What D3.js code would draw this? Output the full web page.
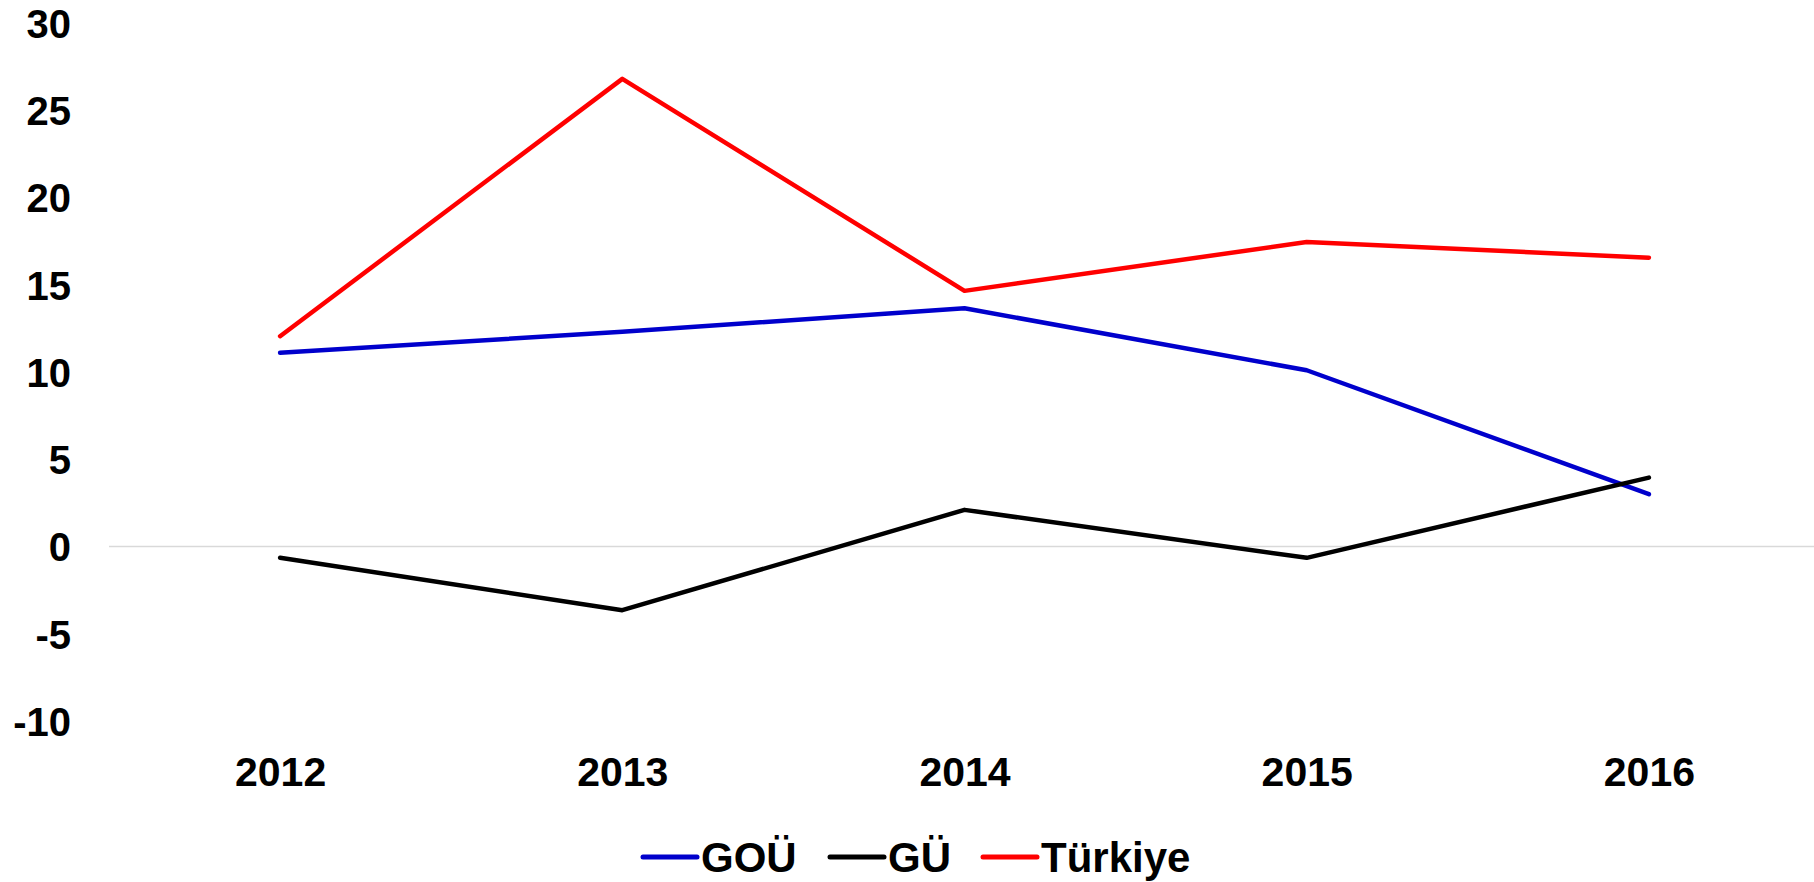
<!DOCTYPE html>
<html>
<head>
<meta charset="utf-8">
<script src="https://cdn.jsdelivr.net/npm/d3@7"></script>
<style>
  body { margin: 0; background: #fff; }
  text { font-family: "Liberation Sans", Arial, sans-serif; font-weight: bold; fill: #000; }
</style>
</head>
<body>
<svg></svg>
<script>
let width = 1814;
let height = 882;

// data
let years = ['2012', '2013', '2014', '2015', '2016'];
let gou = [11.1, 12.3, 13.65, 10.1, 3.0];
let gu = [-0.65, -3.65, 2.1, -0.65, 3.95];
let turkiye = [12.05, 26.8, 14.65, 17.45, 16.55];
let yTicks = [-10, -5, 0, 5, 10, 15, 20, 25, 30];
let seriesNames = ['GOÜ', 'GÜ', 'Türkiye'];
let seriesColors = ['#0000cc', '#000000', '#ff0000'];

let svg = d3.select('svg').attr('width', width).attr('height', height);

let xScale = d3.scalePoint().domain(years).range([109, 1820]).padding(0.5);
let yScale = d3.scaleLinear().domain([-10, 30]).range([721, 23]);

// zero line
svg.append('line')
    .attr('x1', 109).attr('x2', width)
    .attr('y1', yScale(0)).attr('y2', yScale(0))
    .attr('stroke', '#d9d9d9').attr('stroke-width', 1.5);

// y axis labels (plain hyphen for negatives, like the original)
let yAxis = d3.axisLeft(yScale).tickValues(yTicks).tickFormat(d => String(d)).tickSize(0).tickPadding(0);
let yG = svg.append('g').attr('transform', 'translate(71,0)').call(yAxis);
yG.select('.domain').remove();
yG.selectAll('text').attr('font-size', 40).attr('dy', '0.36em')
    .style('font-family', '"Liberation Sans", Arial, sans-serif').style('font-weight', 'bold');

// x axis labels
let xAxis = d3.axisBottom(xScale).tickSize(0).tickPadding(0);
let xG = svg.append('g').attr('transform', 'translate(0,786)').call(xAxis);
xG.select('.domain').remove();
xG.selectAll('text').attr('font-size', 41).attr('dy', 0)
    .style('font-family', '"Liberation Sans", Arial, sans-serif').style('font-weight', 'bold');

// lines
let allSeries = [gou, gu, turkiye];
let line = d3.line().x((d, i) => xScale(years[i])).y(d => yScale(d));
allSeries.forEach((s, k) => {
    svg.append('path')
        .datum(s)
        .attr('d', line)
        .attr('fill', 'none')
        .attr('stroke', seriesColors[k])
        .attr('stroke-width', 4.5)
        .attr('stroke-linejoin', 'round')
        .attr('stroke-linecap', 'round');
});

// legend
let legendX = [643, 830, 983];
let legend = svg.append('g');
seriesNames.forEach((name, k) => {
    legend.append('line')
        .attr('x1', legendX[k]).attr('x2', legendX[k] + 54)
        .attr('y1', 857).attr('y2', 857)
        .attr('stroke', seriesColors[k]).attr('stroke-width', 5)
        .attr('stroke-linecap', 'round');
    legend.append('text')
        .attr('x', legendX[k] + 58).attr('y', 872)
        .attr('font-size', 42)
        .text(name);
});
</script>
</body>
</html>
